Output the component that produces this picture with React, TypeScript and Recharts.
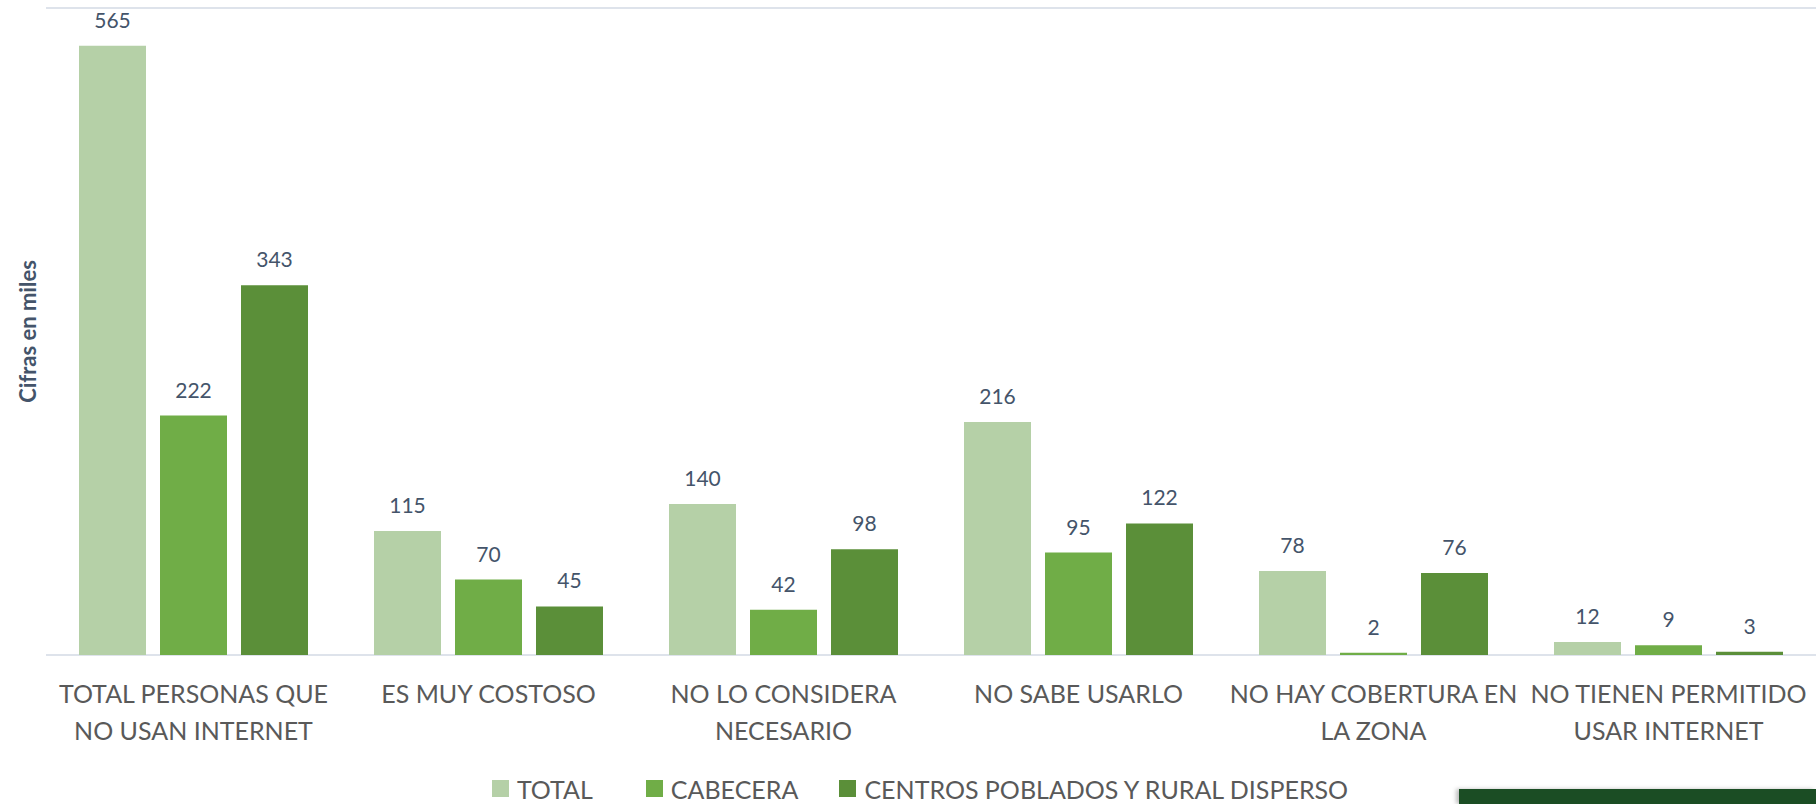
import { BarChart, Bar, XAxis, YAxis, CartesianGrid, Legend, LabelList } from 'recharts';

const categories = [
  'TOTAL PERSONAS QUE\nNO USAN INTERNET',
  'ES MUY COSTOSO',
  'NO LO CONSIDERA\nNECESARIO',
  'NO SABE USARLO',
  'NO HAY COBERTURA EN\nLA ZONA',
  'NO TIENEN PERMITIDO\nUSAR INTERNET',
];
const total = [565, 115, 140, 216, 78, 12];
const cabecera = [222, 70, 42, 95, 2, 9];
const centros = [343, 45, 98, 122, 76, 3];
const yTicks = [0, 100, 200, 300, 400, 500, 600];

const SERIES = [
  { key: 'total', name: 'TOTAL', color: '#B5D0A7' },
  { key: 'cabecera', name: 'CABECERA', color: '#70AD47' },
  { key: 'centros', name: 'CENTROS POBLADOS Y RURAL DISPERSO', color: '#5B8F39' },
] as const;

const data = categories.map((name, i) => ({
  name,
  total: total[i],
  cabecera: cabecera[i],
  centros: centros[i],
}));

const FONT = 'Lato, sans-serif';
const LEGEND_GAPS = [53, 41, 0];

const CategoryTick = ({ x, y, payload }: any) => {
  const lines = String(payload.value).split('\n');
  return (
    <text x={x} y={y} textAnchor="middle" fill="#595959" fontSize={25} fontFamily={FONT}>
      {lines.map((line, i) => (
        <tspan key={i} x={x} dy={i === 0 ? 48 : 37}>
          {line}
        </tspan>
      ))}
    </text>
  );
};

const LegendContent = () => (
  <div
    style={{
      height: 31,
      display: 'flex',
      alignItems: 'center',
      justifyContent: 'center',
      fontFamily: FONT,
      fontSize: 25,
      color: '#595959',
      paddingLeft: 24,
    }}
  >
    {SERIES.map((s, i) => (
      <div key={s.key} style={{ display: 'flex', alignItems: 'center', marginRight: LEGEND_GAPS[i] }}>
        <span style={{ width: 17, height: 17, background: s.color, marginRight: 8, display: 'inline-block' }} />
        <span>{s.name}</span>
      </div>
    ))}
  </div>
);

export default function App() {
  return (
    <div style={{ position: 'absolute', left: 0, top: 0, width: 1816, height: 804, background: '#fff' }}>
      <BarChart
        width={1816}
        height={804}
        data={data}
        margin={{ top: 8, right: 0, left: 0, bottom: 0 }}
        barCategoryGap={33}
        barGap={14}
        style={{ fontFamily: FONT }}
      >
        <CartesianGrid vertical={false} stroke="#DEE3EB" strokeWidth={2} />
        <XAxis
          dataKey="name"
          interval={0}
          axisLine={false}
          tickLine={false}
          tickSize={0}
          tickMargin={0}
          height={118}
          tick={<CategoryTick />}
        />
        <YAxis
          width={46}
          domain={[0, 600]}
          ticks={yTicks}
          tick={false}
          axisLine={false}
          tickLine={false}
          label={{
            value: 'Cifras en miles',
            angle: -90,
            position: 'center',
            dx: 5,
            style: { fill: '#44546A', fontWeight: 700, fontSize: 22, fontFamily: FONT },
          }}
        />
        <Legend verticalAlign="bottom" content={<LegendContent />} />
        {SERIES.map((s) => (
          <Bar key={s.key} dataKey={s.key} name={s.name} fill={s.color} isAnimationActive={false}>
            <LabelList
              dataKey={s.key}
              position="top"
              offset={18}
              fill="#44546A"
              fontSize={21}
              fontFamily={FONT}
            />
          </Bar>
        ))}
      </BarChart>
      <div
        style={{
          position: 'absolute',
          left: 1459,
          top: 789,
          width: 357,
          height: 15,
          background: '#1B4D24',
          boxShadow: '-3px 0 4px rgba(0,0,0,0.25)',
        }}
      />
    </div>
  );
}
